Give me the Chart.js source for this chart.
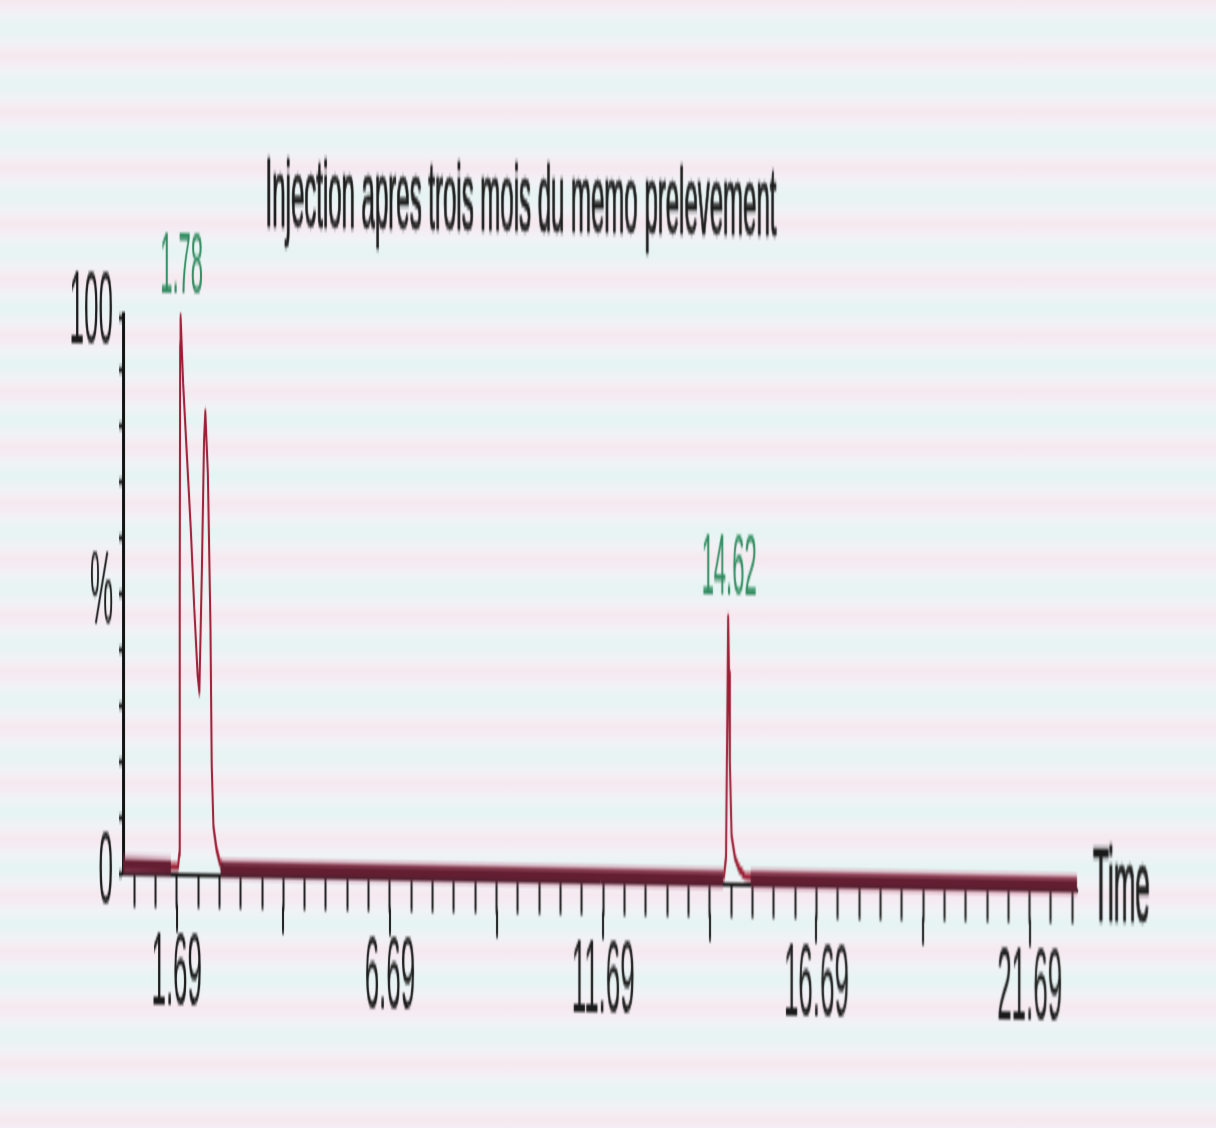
<!DOCTYPE html>
<html lang="fr">
<head>
<meta charset="utf-8">
<title>Injection apres trois mois du memo prelevement</title>
<script src="https://cdn.jsdelivr.net/npm/chart.js@4.4.1/dist/chart.umd.min.js"></script>
<style>
  html, body { margin: 0; padding: 0; }
  body {
    width: 1216px;
    height: 1128px;
    overflow: hidden;
    background: repeating-linear-gradient(180deg, #f6e8ef 0px, #f1f2f6 14px, #e5f4f2 28px, #f1f2f6 42px, #f6e8ef 56px);
  }
  /* canvas is drawn short and shown tall, slightly sheared */
  #chart {
    display: block;
    transform: skewY(1deg);
    transform-origin: 123px 0;
  }
</style>
</head>
<body>
<canvas id="chart" width="1216" height="282" style="width:1216px;height:1128px"></canvas>
<script>
// Retention time axis (min)
const timeMin = 0.43;
const timeMax = 22.8;
const timeTickStart = 0.69;
const timeTickStep = 0.5;
const timeLabels = ["1.69", "6.69", "11.69", "16.69", "21.69"];
const timeLongTicks = [1.69, 4.19, 6.69, 9.19, 11.69, 14.19, 16.69, 19.19, 21.69];

// Intensity axis (%)
const intensityTicks = [0, 10, 20, 30, 40, 50, 60, 70, 80, 90, 100];
const intensityLabelValues = [0, 50, 100];
const intensityLabelText = ["0", "%", "100"];

// Chromatogram trace
const traceTime = [0.43, 1.72, 1.75, 1.76, 1.77, 1.78, 1.84, 1.93, 2.02, 2.10, 2.18, 2.22, 2.28, 2.33, 2.36, 2.42, 2.48, 2.51, 2.55, 2.62, 2.70, 2.80,
  14.52, 14.57, 14.60, 14.62, 14.64, 14.66, 14.70, 14.78, 14.88, 15.00, 15.10, 22.8];
const traceIntensity = [1.6, 1.6, 4, 50, 95, 100, 88, 75, 62, 48, 36, 33, 55, 78, 83, 72, 45, 20, 9, 5, 2.5, 1.6,
  1.6, 5, 30, 48, 38, 22, 9, 5, 3, 1.8, 1.6, 1.6];

// Baseline segments (null breaks the line under the peaks)
const baselineTime = [0.43, 1.55, 1.6, 2.72, 14.5, 14.55, 15.15, 22.8];
const baselineLevel = [1.8, 1.6, null, 1.4, 1.3, null, 1.3, 1.2];

// Apex labels
const peakTimes = [1.78, 14.62];
const peakLabels = ["1.78", "14.62"];

const titleText = "Injection apres trois mois du memo prelevement";
const fontFamily = "'Liberation Sans', Arial, sans-serif";

const tracePoints = traceTime.map((t, i) => ({ x: t, y: traceIntensity[i] }));
const baselinePoints = baselineTime.map((t, i) => ({ x: t, y: baselineLevel[i] }));

const chartDecor = {
  id: "chartDecor",
  afterDraw(chart) {
    const { ctx, scales: { x, y } } = chart;
    ctx.save();

    // longer marks every 2.5 min
    ctx.strokeStyle = "#1a1a1a";
    ctx.lineWidth = 2;
    timeLongTicks.forEach((v) => {
      const px = Math.round(x.getPixelForValue(v));
      ctx.beginPath();
      ctx.moveTo(px, x.top + 7);
      ctx.lineTo(px, x.top + 14);
      ctx.stroke();
    });

    // title
    ctx.fillStyle = "#1a1a1a";
    ctx.strokeStyle = "#1a1a1a";
    ctx.lineWidth = 0.5;
    ctx.font = "24px " + fontFamily;
    ctx.textAlign = "center";
    ctx.textBaseline = "middle";
    ctx.fillText(titleText, 521, 49);
    ctx.strokeText(titleText, 521, 49);

    // axis name
    ctx.font = "26px " + fontFamily;
    ctx.textAlign = "left";
    ctx.fillText("Time", x.right + 16, y.getPixelForValue(0));
    ctx.strokeText("Time", x.right + 16, y.getPixelForValue(0));

    // retention time above each apex
    ctx.fillStyle = "#2e8a5e";
    ctx.font = "22px " + fontFamily;
    ctx.textAlign = "center";
    peakTimes.forEach((t, i) => {
      const h = traceIntensity[traceTime.indexOf(t)];
      ctx.fillText(peakLabels[i], x.getPixelForValue(t) + 1, y.getPixelForValue(h) - 12);
    });

    ctx.restore();
  },
};

new Chart(document.getElementById("chart"), {
  type: "line",
  data: {
    datasets: [
      {
        label: "baseline haze",
        data: baselinePoints,
        borderColor: "rgba(180, 70, 105, 0.35)",
        borderWidth: 5.5,
        pointRadius: 0,
        spanGaps: false,
        clip: false,
      },
      {
        label: "baseline",
        data: baselinePoints,
        borderColor: "#3a0a14",
        borderWidth: 3,
        pointRadius: 0,
        spanGaps: false,
        clip: false,
      },
      {
        label: "trace",
        data: tracePoints,
        borderColor: "#9b1c33",
        borderWidth: 2,
        borderJoinStyle: "round",
        pointRadius: 0,
        tension: 0,
        clip: false,
      },
    ],
  },
  options: {
    responsive: false,
    animation: false,
    devicePixelRatio: 1,
    layout: {
      padding: { top: 79, right: 139, left: 0, bottom: 0 },
    },
    plugins: {
      legend: { display: false },
      tooltip: { enabled: false },
    },
    scales: {
      x: {
        type: "linear",
        min: timeMin,
        max: timeMax,
        afterFit: (scale) => {
          scale.height = 63.25;
        },
        afterBuildTicks: (scale) => {
          const ticks = [];
          for (let v = timeTickStart; v <= timeMax; v += timeTickStep) {
            ticks.push({ value: +v.toFixed(2) });
          }
          scale.ticks = ticks;
        },
        grid: {
          display: true,
          drawOnChartArea: false,
          drawTicks: true,
          tickLength: 8,
          tickWidth: 2,
          tickColor: "#1a1a1a",
        },
        border: { display: true, color: "#111", width: 1 },
        ticks: {
          autoSkip: false,
          maxRotation: 0,
          padding: 1,
          color: "#1a1a1a",
          font: { family: fontFamily, size: 26 },
          callback: (value) => {
            const s = Number(value).toFixed(2);
            return timeLabels.includes(s) ? s : "";
          },
        },
      },
      y: {
        type: "linear",
        min: 0,
        max: 100,
        afterFit: (scale) => {
          scale.width = 123;
        },
        afterBuildTicks: (scale) => {
          scale.ticks = intensityTicks.map((v) => ({ value: v }));
        },
        grid: {
          display: true,
          drawOnChartArea: false,
          drawTicks: true,
          tickLength: 4,
          tickWidth: 1.5,
          tickColor: "#1a1a1a",
        },
        border: { display: true, color: "#111", width: 3 },
        ticks: {
          autoSkip: false,
          padding: 6,
          color: "#1a1a1a",
          font: { family: fontFamily, size: 26 },
          callback: (value) => {
            const i = intensityLabelValues.indexOf(value);
            return i >= 0 ? intensityLabelText[i] : "";
          },
        },
      },
    },
  },
  plugins: [chartDecor],
});
</script>
</body>
</html>
